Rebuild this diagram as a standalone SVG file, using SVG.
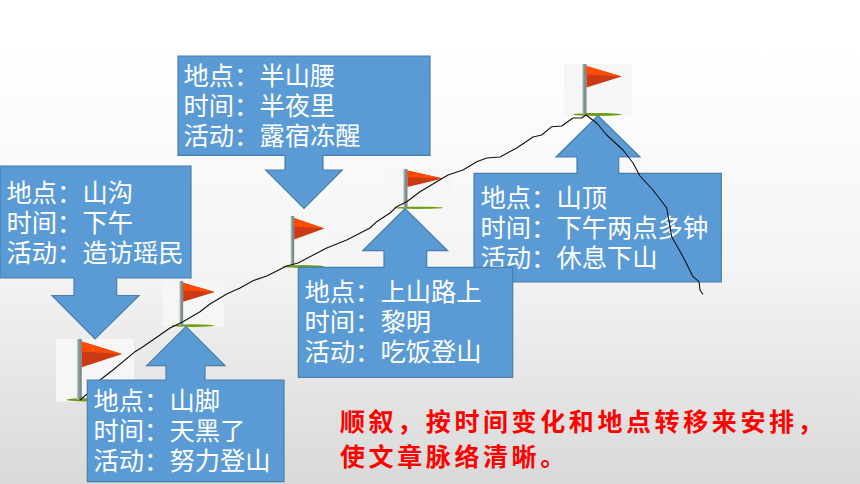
<svg xmlns="http://www.w3.org/2000/svg" width="860" height="484" viewBox="0 0 860 484">
<style>
.callout{fill:#5b9bd5;stroke:#4a7eaa;stroke-width:1.2}
.t{font-family:"Noto Sans CJK SC","Liberation Sans",sans-serif;font-size:25.300px;fill:#fff}
.note{font-family:"Noto Sans CJK SC","Liberation Sans",sans-serif;font-size:25px;font-weight:700;fill:#f00;letter-spacing:3.600px}
.trail{fill:none;stroke:#111;stroke-width:1.1;stroke-linejoin:round;stroke-linecap:round}
</style>
<defs>
<linearGradient id="bg" x1="0" y1="0" x2="0" y2="1">
<stop offset="0" stop-color="#fff"/><stop offset="0.1" stop-color="#fff"/><stop offset="0.55" stop-color="#f4f4f4"/><stop offset="1" stop-color="#d9d9d9"/>
</linearGradient>
<linearGradient id="pole" x1="0" y1="0" x2="1" y2="0">
<stop offset="0" stop-color="#c0cbc9"/><stop offset="0.4" stop-color="#86989a"/><stop offset="1" stop-color="#6e8280"/>
</linearGradient>
<g id="flag">
<rect width="100" height="100" fill="#f6f6f6"/>
<ellipse cx="49" cy="97" rx="36" ry="2.800" fill="#6f9e10"/>
<rect x="27" y="0" width="6" height="97" fill="url(#pole)"/>
<polygon points="33,4 85,24 33,45" fill="#cb3a14"/>
<polygon points="33,4 85,24 33,20" fill="#ff4c00"/>
</g>
</defs>
<rect width="860" height="484" fill="url(#bg)"/>
<g id="flag-1"><use href="#flag" transform="translate(56 339) scale(.78 .627)"/></g>
<g id="flag-2"><use href="#flag" transform="translate(163 281) scale(.61 .46)"/></g>
<g id="flag-3"><use href="#flag" transform="translate(275 216) scale(.58 .52)"/></g>
<g id="flag-4"><use href="#flag" transform="translate(385 169) scale(.68 .4)"/></g>
<g id="flag-5"><use href="#flag" transform="translate(564 64) scale(.68 .52)"/></g>
<g id="node-shangou">
<path class="callout" d="M0 166H191V278H116.700V295.500H139L95 339L52 295.500H74V278H0Z"/>
<text class="t" x="6.500" y="202">地点：山沟</text><text class="t" x="6.500" y="232">时间：下午</text><text class="t" x="6.500" y="262">活动：造访瑶民</text>
</g>
<g id="node-banshanyao">
<path class="callout" d="M178 56H430V155.300H323V170H342.300L304 208.300L265.700 170H285V155.300H178Z"/>
<text class="t" x="183.500" y="85">地点：半山腰</text><text class="t" x="183.500" y="115">时间：半夜里</text><text class="t" x="183.500" y="145">活动：露宿冻醒</text>
</g>
<g id="node-shanding">
<path class="callout" d="M474 173.300H577V157H556L598 115.700L640 157H618.700V173.300H721.300V282H474Z"/>
<text class="t" x="480.500" y="206.500">地点：山顶</text><text class="t" x="480.500" y="236.500">时间：下午两点多钟</text><text class="t" x="480.500" y="266.500">活动：休息下山</text>
</g>
<g id="node-shanshanglu">
<path class="callout" d="M298.300 267.300H384V250.700H362.700L405 208.700L447.700 250.700H426.700V267.300H512.700V377.300H298.300Z"/>
<text class="t" x="304.500" y="301">地点：上山路上</text><text class="t" x="304.500" y="331">时间：黎明</text><text class="t" x="304.500" y="361">活动：吃饭登山</text>
</g>
<g id="connectors">
<polyline class="trail" points="80,400 87,394 100,380 113,370 135,351.700 143,346.700 170,328 183,321.700 200,311.700 210,304 226.700,294 240,288 253,280.700 266.700,276 286.700,266 298,263 326.700,248 346.700,240 370,228 376.700,221.700 390,213 396.700,206.700 406.700,201.700 420,191.700 436.700,181.700 448,175 463,170 476.700,161.700 486.700,158 500,157 516.700,148 533,137 541.700,135 551.700,126.700 561.700,126 573,118 581.700,118 586,115 596.700,123 606.700,135 623,150 633,163 640,176 653,190 666.700,208 671.700,236.700 683,256.700 693,276.700 699,281.700 700,290 702.700,294"/>
</g>
<g id="node-shanjiao">
<path class="callout" d="M87.300 380H166V365.700H146.700L186 326.500L225 365.700H205V380H284V481.700H87.300Z"/>
<text class="t" x="93.500" y="410">地点：山脚</text><text class="t" x="93.500" y="440">时间：天黑了</text><text class="t" x="93.500" y="470">活动：努力登山</text>
</g>
<g id="note">
<text class="note" x="340" y="431">顺叙，按时间变化和地点转移来安排，</text>
<text class="note" x="340" y="466">使文章脉络清晰。</text>
</g>
</svg>
